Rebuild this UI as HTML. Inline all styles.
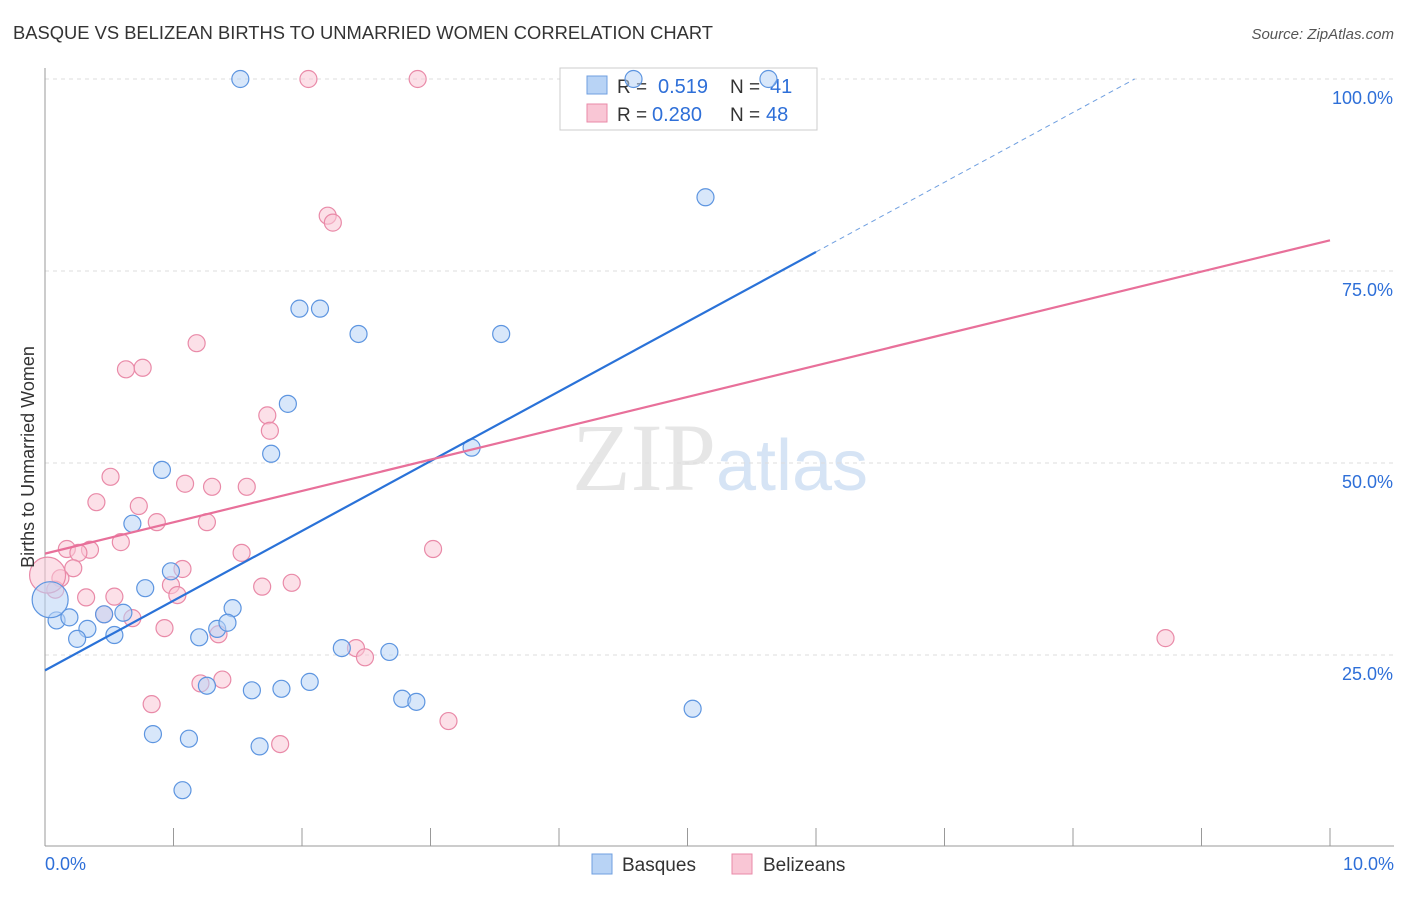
<!DOCTYPE html>
<html><head><meta charset="utf-8"><style>
body{margin:0;background:#fff;font-family:"Liberation Sans",sans-serif}
</style></head><body>
<svg id="chart" width="1406" height="892" xmlns="http://www.w3.org/2000/svg" font-family="Liberation Sans, sans-serif">
<text x="13" y="39" font-size="18" fill="#333" textLength="700" lengthAdjust="spacingAndGlyphs">BASQUE VS BELIZEAN BIRTHS TO UNMARRIED WOMEN CORRELATION CHART</text>
<text x="1394" y="39" font-size="15" fill="#555" text-anchor="end" font-style="italic">Source: ZipAtlas.com</text>
<text x="720" y="490" font-size="96" text-anchor="middle" fill="#e6e6e6" font-family="Liberation Serif, serif">ZIP<tspan fill="#d6e4f5" font-family="Liberation Sans, sans-serif" font-size="72">atlas</tspan></text>
<g id="grid"></g><g id="axes"></g>
<g>
<rect x="560" y="68" width="257" height="62" fill="#fff" stroke="#ccc"/>
<rect x="587" y="76" width="20" height="18" fill="#b8d3f5" stroke="#6f9fe0"/>
<text x="617" y="93" font-size="19" fill="#333">R =</text>
<text x="658" y="93" font-size="20" fill="#2e6fd8">0.519</text>
<text x="730" y="93" font-size="19" fill="#333">N =</text>
<text x="770" y="93" font-size="20" fill="#2e6fd8">41</text>
<rect x="587" y="104" width="20" height="18" fill="#f9c6d5" stroke="#e98aa8"/>
<text x="617" y="121" font-size="19" fill="#333">R =</text>
<text x="652" y="121" font-size="20" fill="#2e6fd8">0.280</text>
<text x="730" y="121" font-size="19" fill="#333">N =</text>
<text x="766" y="121" font-size="20" fill="#2e6fd8">48</text>
</g>
<g id="pts"></g><g id="lines"></g>
<text transform="translate(34,457) rotate(-90)" font-size="18" fill="#333" text-anchor="middle">Births to Unmarried Women</text>
<g>
<rect x="592" y="854" width="20" height="20" fill="#b8d3f5" stroke="#6f9fe0"/>
<text x="622" y="871" font-size="19" fill="#333">Basques</text>
<rect x="732" y="854" width="20" height="20" fill="#f9c6d5" stroke="#e98aa8"/>
<text x="763" y="871" font-size="19" fill="#333">Belizeans</text>
</g>
</svg>
<script>
const blueX=[1.52,4.58,5.63,5.14,1.98,2.14,2.44,3.55,1.89,1.76,3.32,0.91,0.68,0.98,0.78,1.46,0.09,0.19,0.46,0.61,0.33,1.34,1.42,0.54,0.25,1.20,2.31,2.68,2.06,1.26,1.61,1.84,2.78,2.89,5.04,0.84,1.12,1.67,1.07,0.04];
const blueY=[100,100,100,84.6,70.1,70.1,66.8,66.8,57.7,51.2,52.0,49.1,42.1,35.9,33.7,31.1,29.5,29.9,30.3,30.5,28.4,28.4,29.2,27.6,27.1,27.3,25.9,25.4,21.5,21.0,20.4,20.6,19.3,18.9,18.0,14.7,14.1,13.1,7.4,32.2];
const pinkX=[2.05,2.90,2.20,2.24,1.18,0.63,0.76,1.73,1.75,0.51,0.40,0.73,1.09,1.30,1.57,0.87,1.26,0.59,0.17,0.35,0.26,1.53,3.02,0.22,0.12,1.07,0.98,1.03,1.69,1.92,0.32,0.54,0.46,0.68,0.93,1.35,2.42,2.49,1.21,1.38,0.83,3.14,1.83,8.72,0.08,0.02];
const pinkY=[100,100,82.2,81.3,65.6,62.2,62.4,56.2,54.2,48.2,44.9,44.4,47.3,46.9,46.9,42.3,42.3,39.7,38.8,38.7,38.3,38.3,38.8,36.3,35.0,36.2,34.1,32.8,33.9,34.4,32.5,32.6,30.3,29.8,28.5,27.7,25.9,24.7,21.3,21.8,18.6,16.4,13.4,27.2,33.5,35.4];
const bigBlue=[39], bigPink=[45];
const blueTrend=[23.0,9.08];
const pinkTrend=[38.2,4.08];
const yTicks=[25,50,75,100], yTickLabels=["25.0%","50.0%","75.0%","100.0%"];
const xTickLabels=["0.0%","10.0%"];
const NS="http://www.w3.org/2000/svg";
const sx=v=>45+v*128.5, sy=v=>847-v*7.68;
function mk(t,a,p){const e=document.createElementNS(NS,t);for(const k in a)e.setAttribute(k,a[k]);document.getElementById(p).appendChild(e);return e;}
yTicks.forEach((t,i)=>{
 const g=mk('line',{x1:45,x2:1394,y1:sy(t),y2:sy(t),stroke:'#ddd','stroke-dasharray':'4,4'},'grid');
 
 
 const l=mk('text',{x:1393,y:sy(t)+25,'font-size':18,fill:'#2e6fd8','text-anchor':'end'},'axes');
 
 
 l.textContent=yTickLabels[i];
});
const ax=mk('line',{x1:45,x2:45,y1:68,y2:846,stroke:'#999'},'axes');


const bx=mk('line',{x1:45,x2:1394,y1:846,y2:846,stroke:'#999'},'axes');


for(let i=0;i<=10;i++){const t=mk('line',{x1:sx(i),x2:sx(i),y1:828,y2:846,stroke:'#999'},'axes');
 
 }
[[0,'start',45],[10,'end',1394]].forEach((d,i)=>{const l=mk('text',{x:d[2],y:870,'font-size':18,fill:'#2e6fd8','text-anchor':d[1]},'axes');
 
 
 l.textContent=xTickLabels[i];});
function pts(X,Y,big,fill,stroke,name){X.forEach((x,i)=>{const c=mk('circle',{cx:sx(x),cy:sy(Y[i]),r:big.includes(i)?18:8.5,fill:fill,'fill-opacity':0.55,stroke:stroke,'stroke-width':1.2},'pts');
 
 });}
pts(pinkX,pinkY,bigPink,'#f9c6d5','#e98aa8','belizean-point');
pts(blueX,blueY,bigBlue,'#b8d3f5','#5d95e0','basque-point');
const bEnd=6.0, bDash=(100-blueTrend[0])/blueTrend[1];
const b1=mk('line',{x1:sx(0),y1:sy(blueTrend[0]),x2:sx(bEnd),y2:sy(blueTrend[0]+blueTrend[1]*bEnd),stroke:'#2a72d8','stroke-width':2.2},'lines');


const b2=mk('line',{x1:sx(bEnd),y1:sy(blueTrend[0]+blueTrend[1]*bEnd),x2:sx(bDash),y2:sy(100),stroke:'#6f9fe0','stroke-width':1,'stroke-dasharray':'5,4'},'lines');


const p1=mk('line',{x1:sx(0),y1:sy(pinkTrend[0]),x2:sx(10),y2:sy(pinkTrend[0]+pinkTrend[1]*10),stroke:'#e8709a','stroke-width':2.2},'lines');


</script>
</body></html>
